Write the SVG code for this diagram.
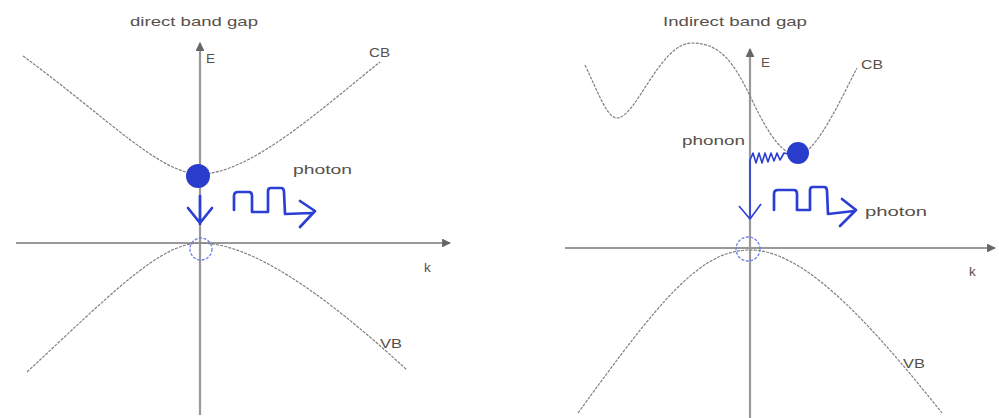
<svg xmlns="http://www.w3.org/2000/svg" width="999" height="418" viewBox="0 0 999 418">
<style>
  .lbl{font-family:"Liberation Sans",Arial,sans-serif;font-size:13.5px;fill:#57504a}
  .axis{stroke:#999;stroke-width:2.2;fill:none}
  .band{stroke:#808080;stroke-width:1.2;fill:none;stroke-dasharray:3 1.2}
  .blue{stroke:#2b3fd6;stroke-width:2.7;fill:none;stroke-linecap:round;stroke-linejoin:round}
  .thin{stroke:#2b3fd6;stroke-width:1.6;fill:none;stroke-linejoin:round}
  .e{fill:#2a3ccc}
  .h{fill:none;stroke:#6f7fe6;stroke-width:1.3;stroke-dasharray:3 1.5}
</style>
<defs>
  <marker id="ah" viewBox="0 0 10 10" refX="9" refY="5" markerWidth="4" markerHeight="4" orient="auto">
    <path d="M0,0 L10,5 L0,10 z" fill="#666"/>
  </marker>
</defs>
<rect width="999" height="418" fill="#fff"/>

<g id="left-panel">
  <text class="lbl" x="130" y="26" textLength="128" lengthAdjust="spacingAndGlyphs">direct band gap</text>
  <g id="left-axes" class="axis">
    <line x1="200" y1="415" x2="200" y2="43" marker-end="url(#ah)"/>
    <line x1="16" y1="243" x2="450" y2="243" marker-end="url(#ah)"/>
  </g>
  <text class="lbl" x="206" y="63">E</text>
  <text class="lbl" x="424" y="272">k</text>
  <g id="left-cb">
    <path class="band" d="M23,56 C110,120 160,174 200,174 C250,174 320,110 380,62"/>
    <text class="lbl" x="369" y="57" textLength="21" lengthAdjust="spacingAndGlyphs">CB</text>
  </g>
  <g id="left-vb">
    <path class="band" d="M27,372 C110,295 160,243 200,243 C250,243 320,290 407,370"/>
    <text class="lbl" x="380" y="348" textLength="22" lengthAdjust="spacingAndGlyphs">VB</text>
  </g>
  <g id="left-electron"><circle class="e" cx="198" cy="176" r="12"/></g>
  <g id="left-hole"><circle class="h" cx="201" cy="249" r="11"/></g>
  <g id="left-transition">
    <path class="blue" d="M200,196 L200,224 M188,208 L200,223 L212,208"/>
  </g>
  <g id="left-photon">
    <path class="blue" d="M234,210 L234,196 Q234,192 238,192 L249,192 Q252,192 252,196 L252,212 L268,212 L268,191 Q268,188 271,188 L281,188 Q284,188 284,192 L285,214 L312,213 M300,201 L315,211 L300,227"/>
    <text class="lbl" x="293" y="174" textLength="59" lengthAdjust="spacingAndGlyphs">photon</text>
  </g>
</g>

<g id="right-panel">
  <text class="lbl" x="663" y="26" textLength="144" lengthAdjust="spacingAndGlyphs">Indirect band gap</text>
  <g id="right-axes" class="axis">
    <line x1="750" y1="418" x2="750" y2="49" marker-end="url(#ah)"/>
    <line x1="565" y1="248" x2="995" y2="248" marker-end="url(#ah)"/>
  </g>
  <text class="lbl" x="761" y="67">E</text>
  <text class="lbl" x="969" y="276">k</text>
  <g id="right-cb">
    <path class="band" d="M585,65 C598,92 607,118 617,118 C636,118 660,43 692,43 C722,43 735,65 752,100 C770,138 784,155 797,155 C815,155 838,105 857,68"/>
    <text class="lbl" x="861" y="69" textLength="22" lengthAdjust="spacingAndGlyphs">CB</text>
  </g>
  <g id="right-vb">
    <path class="band" d="M578,413 C660,300 700,250 750,250 C800,250 860,310 942,413"/>
    <text class="lbl" x="903" y="368" textLength="22" lengthAdjust="spacingAndGlyphs">VB</text>
  </g>
  <g id="right-electron"><circle class="e" cx="798" cy="153" r="11"/></g>
  <g id="right-hole"><circle class="h" cx="748" cy="249" r="12"/></g>
  <g id="right-phonon">
    <path class="thin" d="M750,160 L753,153 L756,163 L759,153 L762,163 L765,153 L768,162 L771,153 L774,161 L777,153 L780,160 L784,153 L788,154"/>
    <text class="lbl" x="682" y="145" textLength="63" lengthAdjust="spacingAndGlyphs">phonon</text>
  </g>
  <g id="right-transition">
    <path class="thin" d="M750,160 L750,219"/>
    <path class="thin" d="M739,206 L750,219 L761,204"/>
  </g>
  <g id="right-photon">
    <path class="blue" d="M774,210 L774,194 Q774,190 778,190 L794,190 Q797,190 797,194 L797,210 L810,210 L810,190 Q810,187 813,187 L824,187 Q827,187 827,191 L828,214 L854,211 M842,199 L856,210 L840,226"/>
    <text class="lbl" x="865" y="216" textLength="62" lengthAdjust="spacingAndGlyphs">photon</text>
  </g>
</g>
</svg>
